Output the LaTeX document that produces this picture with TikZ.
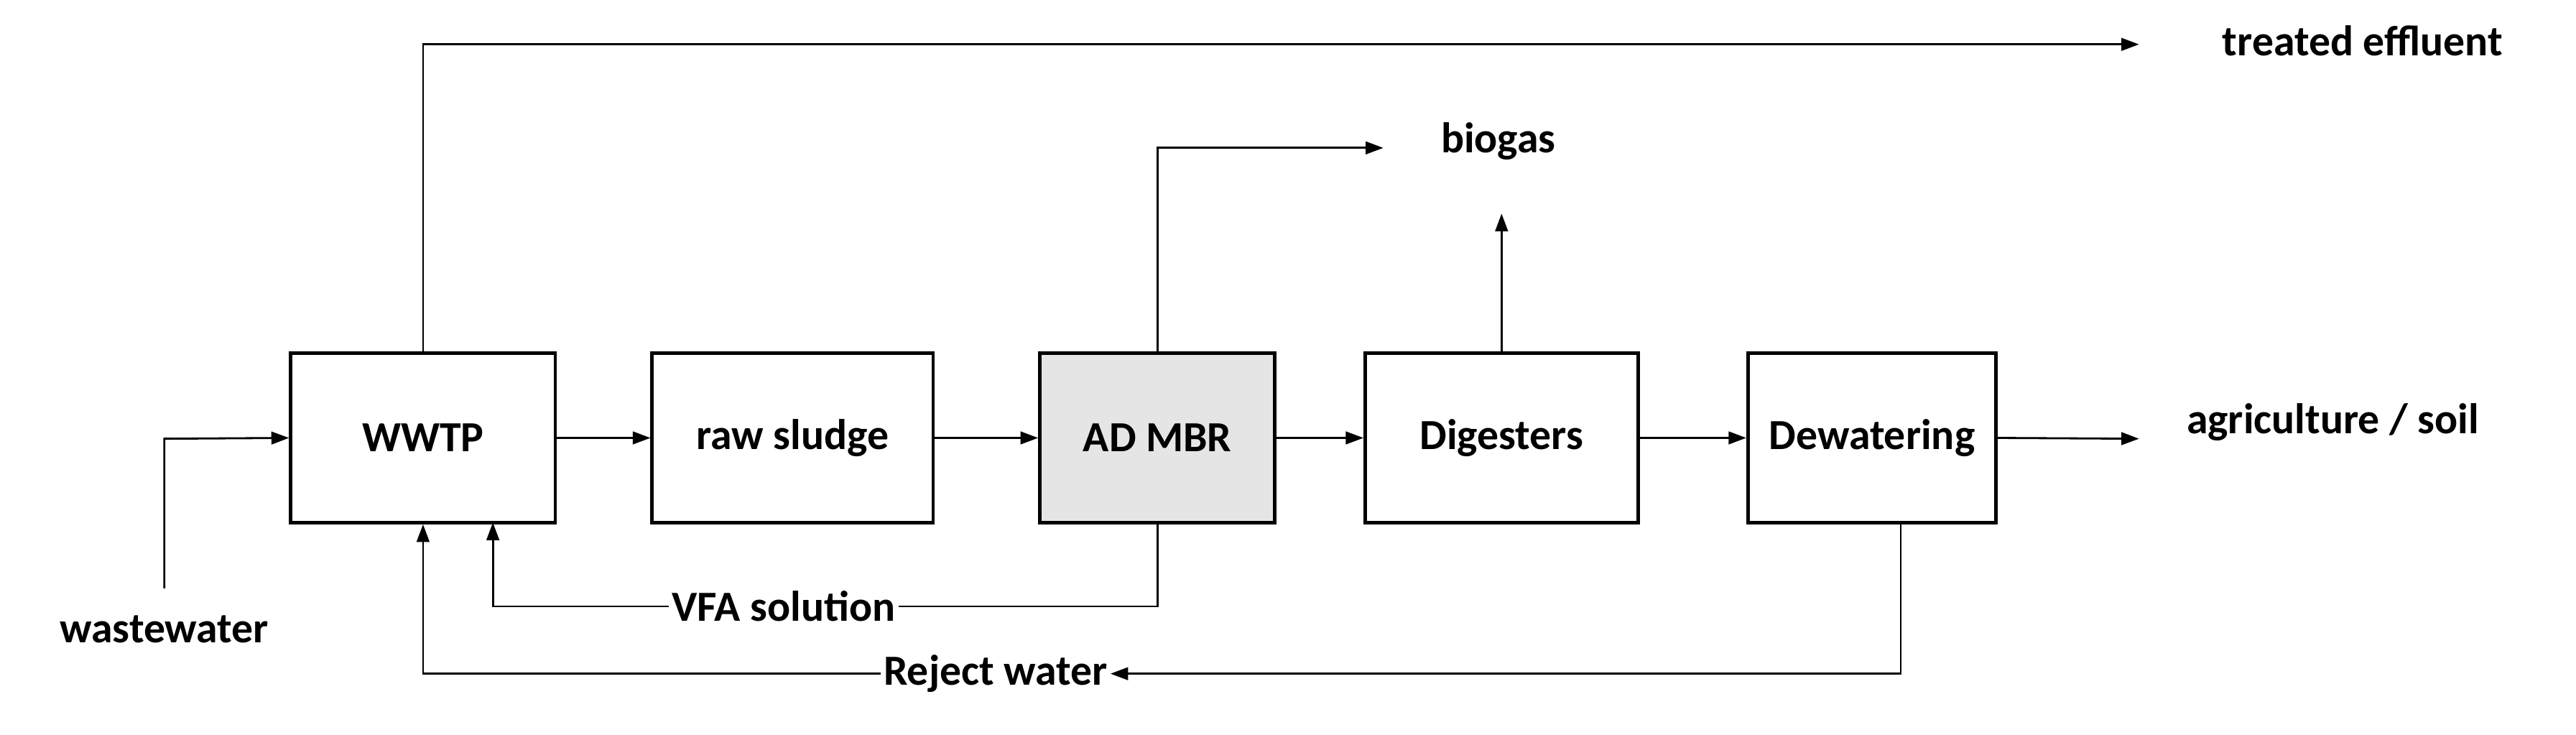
\documentclass[tikz,border=0pt]{standalone}
\usepackage{fontspec}
\setmainfont{Carlito}
\usetikzlibrary{arrows.meta}
\begin{document}
\begin{tikzpicture}[x=0.02287cm,y=-0.02287cm,
  box/.style={draw,line width=1.4pt,minimum width=#1*0.02287cm,minimum height=103*0.02287cm,inner sep=0pt,font=\fontsize{17}{20}\selectfont\bfseries},
  lbl/.style={font=\fontsize{17}{20}\selectfont\bfseries,inner sep=1pt},
  arr/.style={line width=0.8pt,-{Triangle[length=7pt,width=5pt]}},
  ln/.style={line width=0.8pt}]
\useasboundingbox (0,0) rectangle (1568,447);
\node[box=161] (wwtp) at (257.5,266.5) {WWTP};
\node[box=171] (raw) at (482.5,266.5) {raw sludge};
\node[box=143,fill=gray!20] (ad) at (704.5,266.5) {AD MBR};
\node[box=166] (dig) at (914,266.5) {Digesters};
\node[box=151] (dew) at (1139.5,266.5) {Dewatering};
\node[lbl] (eff) at (1438,25) {treated effluent};
\node[lbl] (bio) at (912,86) {biogas};
\node[lbl] (agr) at (1420,257) {agriculture / soil};
\node[lbl] (ww) at (100,383) {wastewater};
\node[lbl] (vfa) at (477,369) {VFA solution};
\node[lbl] (rej) at (606,410) {Reject water};
\coordinate (effe) at (1302,27);
\coordinate (bioe) at (842,90);
\coordinate (dige) at (914,130);
\coordinate (agre) at (1302,267);
\coordinate (wws) at (100,358);
\draw[arr] (wwtp.north) -- (257.5,27) -- (effe);
\draw[arr] (ad.north) -- (704.5,90) -- (bioe);
\draw[arr] (dig.north) -- (dige);
\draw[arr] (dew.east) -- (agre);
\draw[arr] (wws) -- (100,267) -- (wwtp.west);
\draw[arr] (wwtp.east) -- (raw.west);
\draw[arr] (raw.east) -- (ad.west);
\draw[arr] (ad.east) -- (dig.west);
\draw[arr] (dig.east) -- (dew.west);
\draw[ln] (ad.south) |- (vfa.east);
\draw[arr] (vfa.west) -| (300,318);
\draw[arr] (1157,318) |- (rej.east);
\draw[arr] (rej.west) -| (wwtp.south);
\end{tikzpicture}
\end{document}
